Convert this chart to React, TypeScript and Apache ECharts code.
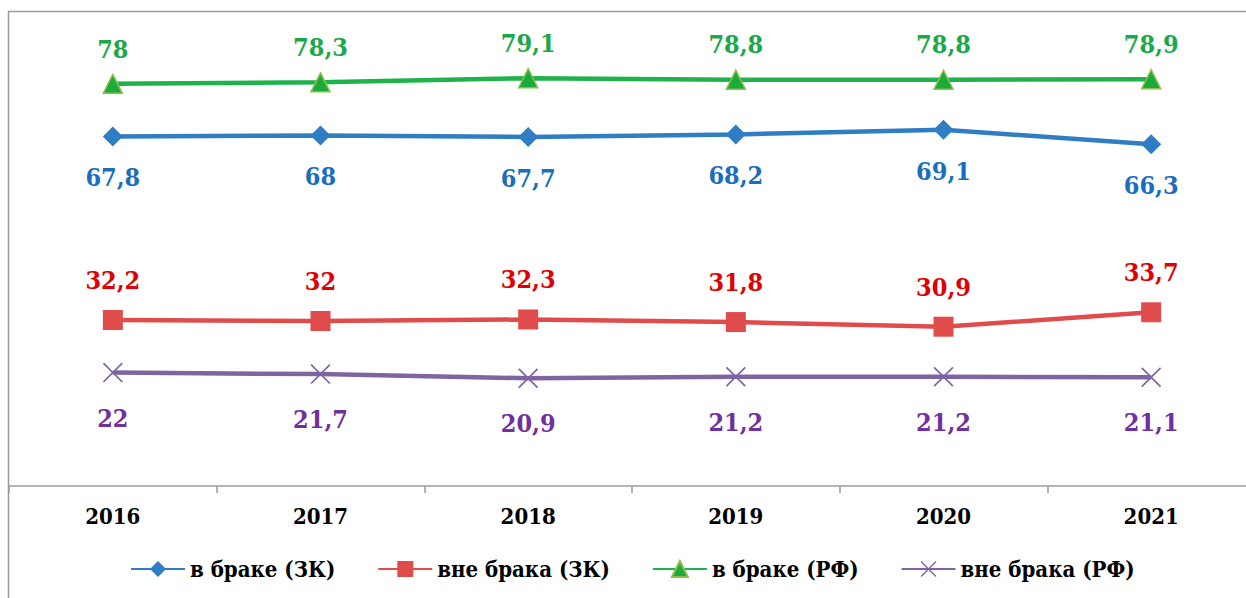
import React, { useEffect, useRef } from "react";
import * as echarts from "echarts";

const years = ["2016", "2017", "2018", "2019", "2020", "2021"];
const marriedZK = [67.8, 68, 67.7, 68.2, 69.1, 66.3];
const unmarriedZK = [32.2, 32, 32.3, 31.8, 30.9, 33.7];
const marriedRF = [78, 78.3, 79.1, 78.8, 78.8, 78.9];
const unmarriedRF = [22, 21.7, 20.9, 21.2, 21.2, 21.1];
const seriesNames = ["в браке (ЗК)", "вне брака (ЗК)", "в браке (РФ)", "вне брака (РФ)"];

const fmt = (v: number) => String(v).replace(".", ",");
const FONT = "DejaVu Serif Condensed";
const CROSS =
  "path://M0,1.2 L1.2,0 L10,8.8 L18.8,0 L20,1.2 L11.2,10 L20,18.8 L18.8,20 L10,11.2 L1.2,20 L0,18.8 L8.8,10 Z";

export default function App() {
  const ref = useRef<HTMLDivElement>(null);
  useEffect(() => {
    if (!ref.current) return;
    const chart = echarts.init(ref.current, undefined, { renderer: "svg" });
    const label = (color: string, position: string, distance: number) => ({
      show: true,
      position,
      distance,
      color,
      fontFamily: FONT,
      fontWeight: "bold",
      fontSize: 25,
      formatter: (p: any) => fmt(p.value),
    });
    chart.setOption({
      animation: false,
      backgroundColor: "#ffffff",
      graphic: [
        {
          type: "rect",
          shape: { x: 8.5, y: 11.5, width: 1400, height: 800 },
          style: { fill: "none", stroke: "#9a9a9a", lineWidth: 1.5 },
          silent: true,
          z: -1,
        },
      ],
      grid: {
        left: 9,
        width: 1246,
        top: 22,
        bottom: 112,
        containLabel: false,
        outerBoundsMode: "none",
      },
      legend: {
        left: 125,
        top: 553,
        itemWidth: 54,
        itemHeight: 20,
        itemGap: 42,
        textStyle: { fontFamily: FONT, fontWeight: "bold", fontSize: 22, color: "#000" },
        data: seriesNames,
      },
      xAxis: {
        type: "category",
        data: years,
        boundaryGap: true,
        axisLine: { lineStyle: { color: "#9a9a9a", width: 1.5 } },
        axisTick: { show: true, length: 7, interval: 0, lineStyle: { color: "#9a9a9a", width: 1.5 } },
        axisLabel: {
          margin: 19,
          fontFamily: FONT,
          fontWeight: "bold",
          fontSize: 22,
          color: "#000",
        },
      },
      yAxis: {
        type: "value",
        min: 0,
        max: 90,
        show: false,
        splitLine: { show: false },
      },
      series: [
        {
          name: seriesNames[0],
          type: "line",
          data: marriedZK,
          symbol: "diamond",
          symbolSize: 20,
          lineStyle: { color: "#2f7dc3", width: 4.5 },
          itemStyle: { color: "#2f7dc3" },
          label: label("#1a6ebd", "bottom", 19),
        },
        {
          name: seriesNames[1],
          type: "line",
          data: unmarriedZK,
          symbol: "rect",
          symbolSize: 20,
          lineStyle: { color: "#e04b4b", width: 4.5 },
          itemStyle: { color: "#e04b4b" },
          label: label("#e00000", "top", 17),
        },
        {
          name: seriesNames[2],
          type: "line",
          data: marriedRF,
          symbol: "triangle",
          symbolSize: 19,
          lineStyle: { color: "#1db34a", width: 4.5 },
          itemStyle: { color: "#1caa3c", borderColor: "#8cbf4a", borderWidth: 1.5 },
          label: label("#19a84a", "top", 12),
        },
        {
          name: seriesNames[3],
          type: "line",
          data: unmarriedRF,
          symbol: CROSS,
          symbolSize: 20,
          lineStyle: { color: "#8064a2", width: 4.5 },
          itemStyle: { color: "#8064a2" },
          label: label("#7030a0", "bottom", 23),
        },
      ],
    });
    return () => chart.dispose();
  }, []);
  return (
    <div
      ref={ref}
      style={{ position: "fixed", left: 0, top: 0, width: 1246, height: 598, background: "#fff" }}
    />
  );
}
